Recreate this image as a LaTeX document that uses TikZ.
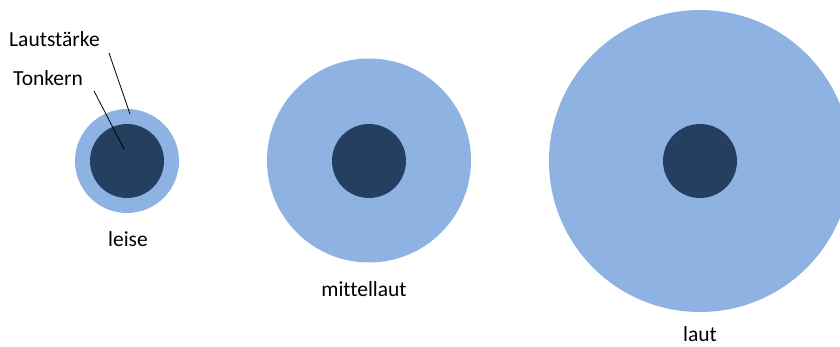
\documentclass[tikz,border=0pt]{standalone}
\usepackage{fontspec}
\setmainfont[Ligatures={NoCommon}]{Carlito}
\definecolor{ringblue}{HTML}{8EB3E2}
\definecolor{coreblue}{HTML}{243F60}
\begin{document}
\begin{tikzpicture}[x=1pt,y=-1pt,
  ring/.style={circle,fill=ringblue,inner sep=0pt,minimum size=#1},
  core/.style={circle,fill=coreblue,inner sep=0pt,minimum size=74pt},
  lbl/.style={font=\fontsize{21.5}{24}\selectfont,inner sep=0pt,anchor=base},
  pointer/.style={draw=black,line width=0.8pt}]
\useasboundingbox (0,0) rectangle (840,347);
\clip (0,0) rectangle (840,347);
\fill[white] (0,0) rectangle (840,347);
\node[ring=104pt] (r1) at (127,161) {};
\node[core] (c1) at (127,161) {};
\node[ring=204pt] (r2) at (369,160.5) {};
\node[core] (c2) at (369,161) {};
\node[ring=302pt] (r3) at (700,161) {};
\node[core] (c3) at (700,161) {};
\node[lbl] (l1) at (128,247) {leise};
\node[lbl] (l2) at (364,296) {mittellaut};
\node[lbl] (l3) at (700,341.5) {laut};
\node[lbl,anchor=base west] (ls) at (9,47) {Lautstärke};
\node[lbl,anchor=base west] (tk) at (13,86) {Tonkern};
\coordinate (lsend) at (130,114);
\coordinate (tkend) at (124,149);
\draw[pointer] (109,53) coordinate (lsstart) -- (lsend);
\draw[pointer] (94,91) coordinate (tkstart) -- (tkend);
\end{tikzpicture}
\end{document}
